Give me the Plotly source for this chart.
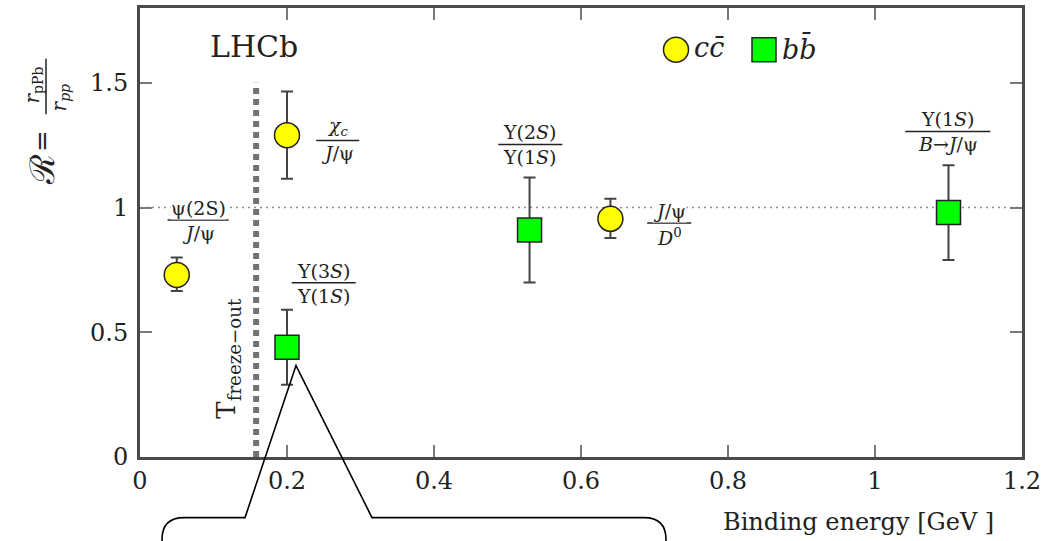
import plotly.graph_objects as go

# ---- data -------------------------------------------------------------
# charmonium-family ratios (c c-bar)
cc_energy = [0.05, 0.20, 0.64]
cc_ratio = [0.73, 1.29, 0.955]
cc_err_up = [0.07, 0.175, 0.08]
cc_err_down = [0.065, 0.175, 0.077]

# bottomonium-family ratios (b b-bar)
bb_energy = [0.20, 0.53, 1.10]
bb_ratio = [0.44, 0.91, 0.98]
bb_err_up = [0.15, 0.21, 0.19]
bb_err_down = [0.15, 0.21, 0.19]

T_FREEZE_OUT = 0.158
x_ticks = [0, 0.2, 0.4, 0.6, 0.8, 1.0, 1.2]
x_tick_text = ["0", "0.2", "0.4", "0.6", "0.8", "1", "1.2"]
y_ticks = [0, 0.5, 1.0, 1.5]
y_tick_text = ["0", "0.5", "1", "1.5"]

# ---- layout helpers ---------------------------------------------------
W, H = 1064, 541
ML, MR, MT, MB = 140, 42, 5, 84
PW, PH = W - ML - MR, H - MT - MB
SERIF = "DejaVu Serif"
INK = "#222222"


def px_x(px):
    return (px - ML) / PW


def px_y(py):
    return (H - MB - py) / PH


def note(text, px, py, size, xanchor="center", yanchor="middle", **kw):
    fig.add_annotation(x=px_x(px), y=px_y(py), xref="paper", yref="paper",
                       xanchor=xanchor, yanchor=yanchor, text=text,
                       showarrow=False, font=dict(family=SERIF, size=size, color=INK),
                       **kw)


fig = go.Figure()

fig.add_trace(go.Scatter(
    x=cc_energy, y=cc_ratio, mode="markers", name="cc",
    marker=dict(symbol="circle", size=25, color="#ffff00",
                line=dict(color=INK, width=1.5)),
    error_y=dict(type="data", symmetric=False, array=cc_err_up,
                 arrayminus=cc_err_down, color="#444444", thickness=2, width=6),
    showlegend=False,
))
fig.add_trace(go.Scatter(
    x=bb_energy, y=bb_ratio, mode="markers", name="bb",
    marker=dict(symbol="square", size=24, color="#00ff00",
                line=dict(color=INK, width=1.5)),
    error_y=dict(type="data", symmetric=False, array=bb_err_up,
                 arrayminus=bb_err_down, color="#444444", thickness=2, width=6),
    showlegend=False,
))

# reference line at R = 1 and the freeze-out temperature
fig.add_shape(type="line", xref="x", yref="y", x0=0, x1=1.2, y0=1, y1=1,
              line=dict(color="#8a8a8a", width=1.5, dash="2px,4px"), layer="below")
fig.add_shape(type="line", xref="x", yref="y", x0=T_FREEZE_OUT, x1=T_FREEZE_OUT,
              y0=0, y1=1.5, line=dict(color="#727272", width=6, dash="6px,5px"),
              layer="below")
note("T<sub>freeze\u2212out</sub>", 228, 358, 26, textangle=-90)


def add_fraction(num, den, x, y, w, size=19, bg=False):
    common = dict(x=x, y=y, xref="x", yref="y", showarrow=False, xanchor="center",
                  font=dict(family=SERIF, size=size, color=INK), borderpad=0)
    fig.add_annotation(text=num, yanchor="bottom", yshift=0,
                       bgcolor="white" if bg else "rgba(0,0,0,0)", **common)
    fig.add_annotation(text=den, yanchor="top", yshift=-1, **common)
    fig.add_shape(type="line", xref="x", yref="y", xsizemode="pixel", xanchor=x,
                  x0=-w / 2, x1=w / 2, y0=y, y1=y, line=dict(color=INK, width=1.5))


add_fraction("\u03c8(2S)", "<i>J</i>/\u03c8", 0.079, 0.950, 61, bg=True)
add_fraction("<i>\u03c7<sub>c</sub></i>", "<i>J</i>/\u03c8", 0.269, 1.269, 43)
add_fraction("\u03a5(3<i>S</i>)", "\u03a5(1<i>S</i>)", 0.250, 0.699, 64)
add_fraction("\u03a5(2<i>S</i>)", "\u03a5(1<i>S</i>)", 0.531, 1.253, 64)
add_fraction("<i>J</i>/\u03c8", "<i>D</i><sup>0</sup>", 0.720, 0.938, 44, bg=True)
add_fraction("\u03a5(1<i>S</i>)", "<i>B</i>\u2192<i>J</i>/\u03c8", 1.099, 1.305, 85)

# experiment tag
note("LHCb", 254, 44, 30)

# key for the two quark families
fig.add_shape(type="circle", xref="paper", yref="paper",
              xsizemode="pixel", ysizemode="pixel",
              xanchor=px_x(676), yanchor=px_y(47), x0=-12.5, x1=12.5, y0=-12.5, y1=12.5,
              fillcolor="#ffff00", line=dict(color=INK, width=1.5))
fig.add_shape(type="rect", xref="paper", yref="paper",
              xsizemode="pixel", ysizemode="pixel",
              xanchor=px_x(764), yanchor=px_y(47), x0=-12, x1=12, y0=-12, y1=12,
              fillcolor="#00ff00", line=dict(color=INK, width=1.5))
note("<i>c</i><i>c\u0304</i>", 692, 45, 27, xanchor="left")
note("<i>b</i><i>b\u0304</i>", 780, 45, 27, xanchor="left")

# y-axis title: R = r_pPb / r_pp, written sideways
note("\u211b", 42, 168, 34, textangle=-90)
note("=", 42, 139, 26, textangle=-90)
note("<i>r</i><sub>pPb</sub>", 33, 83, 20, textangle=-90)
note("<i>r</i><sub><i>pp</i></sub>", 60, 95, 20, textangle=-90)
fig.add_shape(type="line", xref="paper", yref="paper",
              x0=px_x(46), x1=px_x(46), y0=px_y(56), y1=px_y(112),
              line=dict(color=INK, width=1.5))

# x-axis title
note("Binding energy [GeV ]", 858, 522, 24)

# speech-bubble call-out pointing at the Upsilon(3S) point
bubble = [
    ("M", 162, 570), ("L", 162, 540), ("Q", 162, 518, 184, 518),
    ("L", 245, 518), ("L", 296, 365), ("L", 372, 518), ("L", 644, 518),
    ("Q", 666, 518, 666, 540), ("L", 666, 570),
]
path = ""
for seg in bubble:
    cmd, coords = seg[0], seg[1:]
    pts = [f"{px_x(coords[i]):.5f},{px_y(coords[i + 1]):.5f}" for i in range(0, len(coords), 2)]
    path += f"{cmd} {' '.join(pts)} "
fig.add_shape(type="path", xref="paper", yref="paper", path=path.strip(),
              line=dict(color="black", width=1.6), fillcolor="rgba(0,0,0,0)")

axis_common = dict(
    showline=True, linecolor="#4a4a4a", linewidth=3, mirror="ticks",
    ticks="inside", ticklen=12, tickwidth=1.5, tickcolor="#7a7a7a",
    showgrid=False, zeroline=False,
    tickfont=dict(family=SERIF, size=24, color=INK),
)
fig.update_xaxes(range=[0, 1.2], tickvals=x_ticks, ticktext=x_tick_text, **axis_common)
fig.update_yaxes(range=[0, 1.8], tickvals=y_ticks, ticktext=y_tick_text,
                 ticklabelstandoff=4, **axis_common)

fig.update_layout(
    width=W, height=H,
    margin=dict(l=ML, r=MR, t=MT, b=MB),
    paper_bgcolor="white", plot_bgcolor="white",
    showlegend=False,
)

fig.write_html("out.html")
